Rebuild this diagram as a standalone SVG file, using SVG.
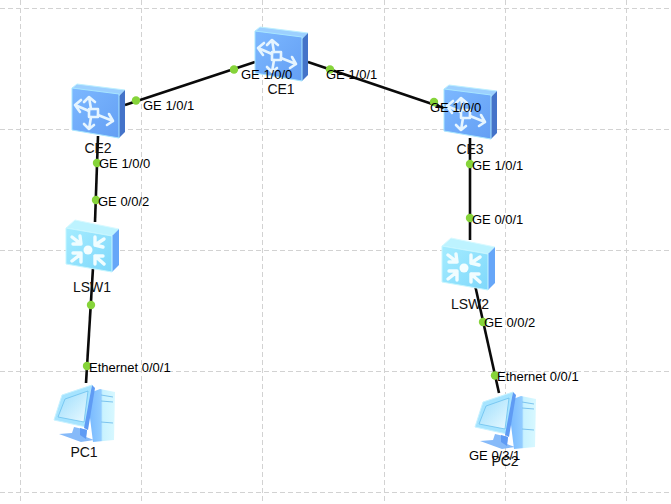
<svg xmlns="http://www.w3.org/2000/svg" width="671" height="504" viewBox="0 0 671 504">
  <style>
    .grid { stroke: #d2d2d2; stroke-width: 1; stroke-dasharray: 5 3; fill: none; }
    .link { stroke: #0a0a0a; stroke-width: 2.6; fill: none; }
    .port { fill: #86d43a; }
    .lbl { font-family: "Liberation Sans", Arial, sans-serif; font-size: 13px; fill: #000; }
    .name { font-family: "Liberation Sans", Arial, sans-serif; font-size: 14px; fill: #101010; text-anchor: middle; }
    .glyph { stroke: #e6f5ff; stroke-width: 2.6; fill: none; stroke-linecap: round; stroke-linejoin: round; }
    .glyph2 { stroke: #f0fdff; stroke-width: 3.4; fill: none; stroke-linecap: round; stroke-linejoin: round; }
  </style>
  <defs>
    <linearGradient id="ceFace" x1="0" y1="0" x2="1" y2="1">
      <stop offset="0" stop-color="#7cb8ff"/>
      <stop offset="1" stop-color="#649ff4"/>
    </linearGradient>
    <linearGradient id="swFace" x1="0" y1="0" x2="1" y2="1">
      <stop offset="0" stop-color="#a5ecff"/>
      <stop offset="1" stop-color="#7fd8fb"/>
    </linearGradient>
    <linearGradient id="screen" x1="0" y1="0" x2="1" y2="1">
      <stop offset="0" stop-color="#9adcfc"/>
      <stop offset="1" stop-color="#eafaff"/>
    </linearGradient>
    <linearGradient id="tower" x1="0" y1="0" x2="1" y2="0">
      <stop offset="0" stop-color="#74b6ff"/>
      <stop offset="0.5" stop-color="#92ccff"/>
      <stop offset="0.56" stop-color="#c8f2ff"/>
      <stop offset="1" stop-color="#d8f8ff"/>
    </linearGradient>

    <!-- core switch -->
    <g id="ceIcon">
      <path d="M0 4 L5 0 L53 6 L47 12 Z" fill="#9cd0ff" stroke="#bdf0ff" stroke-width="1"/>
      <path d="M47 12 L53 6 V48 L47 54 Z" fill="#4473c9"/>
      <path d="M0 4 L47 10 V54 L0 46 Z" fill="url(#ceFace)" stroke="#a8e6ff" stroke-width="1"/>
      <g class="glyph">
        <path d="M19 25 L17 13 M12 18 L17 13 L23 18"/>
        <path d="M17 27 L3 21 M9 16 L3 21 L8 28"/>
        <path d="M19 33 L17 45 M12 40 L17 45 L22 41"/>
        <path d="M26 31 L41 37 M35 41 L41 37 L37 30"/>
        <rect x="17" y="25" width="9" height="8"/>
      </g>
    </g>

    <!-- access switch -->
    <g id="swIcon">
      <path d="M0 8 L9 0 L53 9 L46 16 Z" fill="#bdf3ff" stroke="#d8faff" stroke-width="1"/>
      <path d="M46 16 L53 9 V45 L46 52 Z" fill="#66a6f8"/>
      <path d="M0 8 L46 16 V52 L0 44 Z" fill="url(#swFace)" stroke="#c6f6ff" stroke-width="1"/>
      <circle cx="22" cy="30" r="4.500" fill="#f4feff"/>
      <g class="glyph2">
        <path d="M6 17 L15 24 M7 24 L15 24 L14 16"/>
        <path d="M38 19 L29 25 M37 27 L29 25 L29 17"/>
        <path d="M6 41 L15 34 M7 33 H15 V42"/>
        <path d="M38 44 L29 36 M29 44 V36 H37"/>
      </g>
    </g>

    <!-- desktop computer -->
    <g id="pcIcon">
      <path d="M34 12 L47 7 L62 10 L61 58 L40 60 Z" fill="url(#tower)"/>
      <path d="M48 13 L60 15 M48 19 L60 20 M48 40 L60 41" stroke="#7cc4ef" stroke-width="1" fill="none"/>
      <path d="M9 13 L39 3 L33 45 L1 38 Z" fill="#a6e4ff" stroke="#c8f2ff" stroke-width="1"/>
      <path d="M12 17 L35 9 L31 40 L5 35 Z" fill="url(#screen)" stroke="#6cc0ee" stroke-width="0.8"/>
      <path d="M39 3 L42 6 L35 48 L31 46 Z" fill="#5f9bf4"/>
      <path d="M21 45 L34 48 L33 55 L41 58 L28 60 L6 52 L19 51 Z" fill="#86baf9"/>
      <path d="M27 46 L34 48 L33 57 L27 53 Z" fill="#5f9bf4"/>
    </g>
  </defs>

  <g id="grid">
    <path class="grid" d="M20.500 0 V504 M141.500 0 V504 M262.500 0 V504 M384.500 0 V504 M505.500 0 V504 M626.500 0 V504"/>
    <path class="grid" d="M0 8.500 H671 M0 129.500 H671 M0 250.500 H671 M0 371.500 H671 M0 492.500 H671"/>
  </g>

  <g id="connectors">
    <path class="link" d="M125 105 L255 62"/>
    <path class="link" d="M308 62 L444 108"/>
    <path class="link" d="M98 136 L95 222"/>
    <path class="link" d="M93 268 L86 383"/>
    <path class="link" d="M470 138 V240"/>
    <path class="link" d="M475 285 L499 393"/>
  </g>

  <g id="CE1">
    <use href="#ceIcon" x="255" y="27"/>
    <text class="name" x="281" y="94">CE1</text>
  </g>
  <g id="CE2">
    <use href="#ceIcon" x="72" y="84"/>
    <text class="name" x="98" y="153">CE2</text>
  </g>
  <g id="CE3">
    <use href="#ceIcon" x="444" y="85"/>
    <text class="name" x="470" y="154">CE3</text>
  </g>
  <g id="LSW1">
    <use href="#swIcon" x="66" y="220"/>
    <text class="name" x="92" y="292">LSW1</text>
  </g>
  <g id="LSW2">
    <use href="#swIcon" x="442" y="238"/>
    <text class="name" x="470" y="309">LSW2</text>
  </g>
  <g id="PC1">
    <use href="#pcIcon" x="53" y="382"/>
    <text class="name" x="84" y="457">PC1</text>
  </g>
  <g id="PC2">
    <use href="#pcIcon" x="474" y="389"/>
    <text class="name" x="505" y="466">PC2</text>
  </g>

  <g id="ports">
    <circle class="port" cx="234" cy="69.500" r="4.200"/>
    <circle class="port" cx="136" cy="100.500" r="4.200"/>
    <circle class="port" cx="330" cy="69.500" r="4.200"/>
    <circle class="port" cx="434" cy="102" r="4.200"/>
    <circle class="port" cx="97" cy="163" r="4.200"/>
    <circle class="port" cx="96" cy="200" r="4.200"/>
    <circle class="port" cx="91" cy="305" r="4.200"/>
    <circle class="port" cx="87" cy="366" r="4.200"/>
    <circle class="port" cx="470" cy="164" r="4.200"/>
    <circle class="port" cx="470" cy="218" r="4.200"/>
    <circle class="port" cx="483" cy="322" r="4.200"/>
    <circle class="port" cx="495" cy="375.500" r="4.200"/>

    <text class="lbl" x="241" y="79">GE 1/0/0</text>
    <text class="lbl" x="143" y="110">GE 1/0/1</text>
    <text class="lbl" x="326" y="79">GE 1/0/1</text>
    <text class="lbl" x="430" y="112">GE 1/0/0</text>
    <text class="lbl" x="99" y="168">GE 1/0/0</text>
    <text class="lbl" x="98" y="206">GE 0/0/2</text>
    <text class="lbl" x="89" y="372">Ethernet 0/0/1</text>
    <text class="lbl" x="472" y="170">GE 1/0/1</text>
    <text class="lbl" x="472" y="224">GE 0/0/1</text>
    <text class="lbl" x="484" y="327">GE 0/0/2</text>
    <text class="lbl" x="497" y="381">Ethernet 0/0/1</text>
    <text class="lbl" x="469" y="460">GE 0/3/1</text>
  </g>
</svg>
